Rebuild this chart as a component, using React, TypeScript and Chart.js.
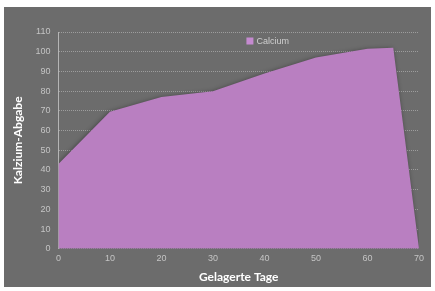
import React, { useEffect, useRef } from "react";
import { Chart, registerables } from "chart.js";

Chart.register(...registerables);

const days = [0, 10, 20, 30, 40, 50, 60, 65, 70];
const calcium = [43, 69.5, 77, 80, 89, 97, 101.5, 102, 0];
const seriesLabel = "Calcium";
const xTitle = "Gelagerte Tage";
const yTitle = "Kalzium-Abgabe";

const legendPlugin = {
  id: "customLegend",
  afterDraw(chart: any) {
    const { ctx, chartArea } = chart;
    const ds = chart.data.datasets[0];
    ctx.save();
    const x = chartArea.left + 188;
    const y = chartArea.top + 9;
    ctx.fillStyle = "#c58ad0";
    ctx.fillRect(x, y - 3.5, 7, 7);
    ctx.fillStyle = "#cfcfcf";
    ctx.font = "9px 'Liberation Sans', Arial, sans-serif";
    ctx.textBaseline = "middle";
    ctx.textAlign = "left";
    ctx.fillText(ds.label, x + 10, y + 0.5);
    ctx.restore();
  },
};

const shadowPlugin = {
  id: "fillShadow",
  beforeDatasetsDraw(chart: any) {
    const ctx = chart.ctx;
    ctx.save();
    ctx.shadowColor = "rgba(0,0,0,0.45)";
    ctx.shadowBlur = 5;
    ctx.shadowOffsetX = -1;
    ctx.shadowOffsetY = 1;
  },
  afterDatasetsDraw(chart: any) {
    chart.ctx.restore();
  },
};

export default function App() {
  const ref = useRef<HTMLCanvasElement | null>(null);
  useEffect(() => {
    document.body.style.margin = "0";
    const ctx = ref.current!.getContext("2d")!;
    const chart = new Chart(ctx, {
      type: "line",
      data: {
        datasets: [
          {
            label: seriesLabel,
            data: days.map((d, i) => ({ x: d, y: calcium[i] })),
            fill: "origin",
            backgroundColor: "#b97fc1",
            borderColor: "#b97fc1",
            borderWidth: 0,
            pointRadius: 0,
            tension: 0,
            clip: false as any,
          },
        ],
      },
      options: {
        animation: false,
        responsive: false,
        maintainAspectRatio: false,
        layout: { padding: { left: 7, right: 12, top: 25, bottom: 3 } },
        plugins: {
          legend: { display: false },
          tooltip: { enabled: false },
        },
        scales: {
          x: {
            type: "linear",
            min: 0,
            max: 70,
            ticks: {
              stepSize: 10,
              color: "#c4c4c4",
              font: { family: "'Liberation Sans', Arial, sans-serif", size: 9 },
              padding: 4,
            },
            grid: { display: false, drawTicks: false },
            border: { display: false },
            title: {
              display: true,
              text: xTitle,
              color: "#ffffff",
              font: { family: "Lato, 'Liberation Sans', sans-serif", size: 12, weight: "bold" },
              padding: { top: 2, bottom: 0 },
            },
          },
          y: {
            min: 0,
            max: 110,
            ticks: {
              stepSize: 10,
              color: "#c4c4c4",
              font: { family: "'Liberation Sans', Arial, sans-serif", size: 9 },
              padding: 8,
            },
            grid: {
              color: "rgba(205,205,205,0.5)",
              drawTicks: false,
            },
            border: { display: true, color: "#b5b5b5", width: 1, dash: [1, 1] },
            title: {
              display: true,
              text: yTitle,
              color: "#ffffff",
              font: { family: "Lato, 'Liberation Sans', sans-serif", size: 12, weight: "bold" },
              padding: { top: 0, bottom: 2 },
            },
          },
        },
      },
      plugins: [shadowPlugin, legendPlugin],
    });
    return () => chart.destroy();
  }, []);
  return (
    <div style={{ width: 435, height: 291, background: "#ffffff", position: "relative" }}>
      <div style={{ position: "absolute", left: 4, top: 7, width: 427, height: 280, background: "#6c6c6c" }}>
        <canvas ref={ref} width={427} height={280} style={{ display: "block" }} />
      </div>
    </div>
  );
}
